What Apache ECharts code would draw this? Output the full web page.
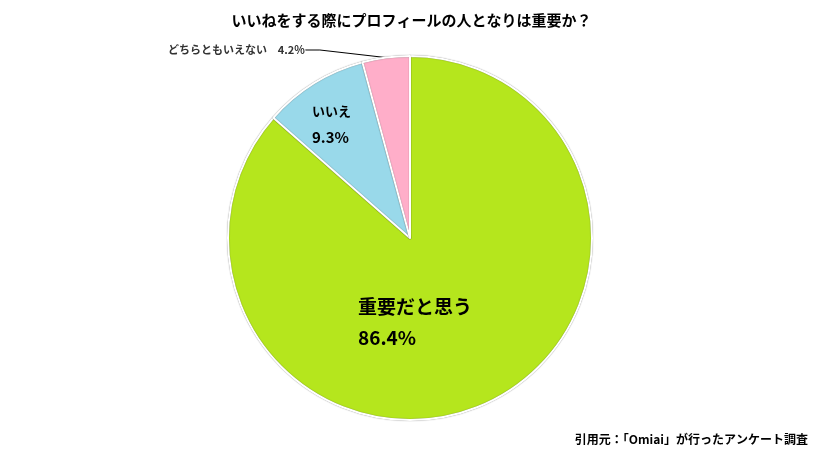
<!DOCTYPE html><html><head><meta charset="utf-8">
<script src="https://cdn.jsdelivr.net/npm/echarts@6/dist/echarts.min.js"></script>
<style>html,body{margin:0;background:#fff}#c{width:823px;height:458px}</style></head><body><div id="c"></div>
<script>
const categories=['重要だと思う','いいえ','どちらともいえない'];
const values=[86.4,9.3,4.2];
const colors=['#b5e61d','#99d9ea','#ffaec9'];
const chart=echarts.init(document.getElementById('c'));
const F='"Noto Sans CJK JP",sans-serif';
chart.setOption({
 title:[{text:'いいねをする際にプロフィールの人となりは重要か？',left:'center',top:8,textStyle:{fontFamily:F,fontSize:15,fontWeight:'bold',color:'#000'}},
  {text:'引用元：「Omiai」が行ったアンケート調査',right:10,bottom:8,textStyle:{fontFamily:F,fontSize:12,fontWeight:'bold',color:'#000'}}],
 series:[{type:'pie',center:[410,238],radius:182,startAngle:90,clockwise:true,animation:false,
  itemStyle:{borderColor:'#fff',borderWidth:2,shadowColor:'rgba(0,0,0,0.5)',shadowBlur:1},
  labelLine:{show:true,length:10,length2:15,lineStyle:{color:'#000',width:1}},
  data:categories.map((n,i)=>({name:n,value:values[i],itemStyle:{color:colors[i]},
   label: i===2?{position:'outside',fontFamily:F,formatter:'{n|{b}}    {v|{c}%}',rich:{n:{fontSize:11,fontWeight:'bold',fontFamily:F},v:{fontSize:11,fontWeight:'bold',fontFamily:F}}}
   :{position:'inside',align:'left',fontFamily:F,formatter:'{n|{b}}\n\n{v|{c}%}',
     rich:i===0?{n:{fontSize:19,fontWeight:'bold',fontFamily:F,color:'#000'},v:{fontSize:19,fontWeight:'bold',fontFamily:F,color:'#000'}}
              :{n:{fontSize:13,fontWeight:'bold',fontFamily:F,color:'#000'},v:{fontSize:15,fontWeight:'bold',fontFamily:F,color:'#000'}}},
   labelLine:{show:i===2}}))}],
 },true);
chart.setOption({series:[{labelLayout:function(p){
  if(p.dataIndex===0) return {x:358,y:322,align:'left',verticalAlign:'middle'};
  if(p.dataIndex===1) return {x:312,y:125,align:'left',verticalAlign:'middle'};
  return {x:168,y:50,align:'left',verticalAlign:'middle'};
 }}]});
</script></body></html>
